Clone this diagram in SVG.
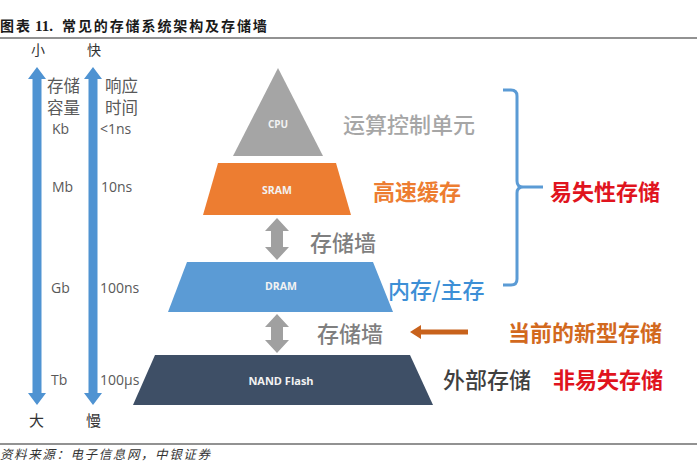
<svg xmlns="http://www.w3.org/2000/svg" width="697" height="464" viewBox="0 0 697 464">
<style>
.cjk{font-family:"Noto Sans CJK SC","Noto Sans",sans-serif}
.big{font-size:22px}
.side{font-size:16.5px;fill:#595959}
.lat{font-family:"Open Sans","Noto Sans",sans-serif;font-size:14px;fill:#595959}
.lbl{font-family:"Open Sans","Noto Sans",sans-serif;font-weight:bold;text-anchor:middle;fill:#f2f2f2}
.rule{stroke:#6e6e6e;stroke-width:1.5}
</style>
<rect width="697" height="464" fill="#ffffff"/>
<g id="title">
<text class="cjk" x="0" y="31" font-size="14" font-weight="bold" fill="#1a1a1a" letter-spacing="2">图表</text>
<text x="35" y="31" font-family="Liberation Serif,serif" font-size="15" font-weight="bold" fill="#1a1a1a">11.</text>
<text class="cjk" x="62" y="31" font-size="14" font-weight="bold" fill="#1a1a1a" letter-spacing="1.9">常见的存储系统架构及存储墙</text>
<line class="rule" x1="0" y1="38" x2="697" y2="38"/>
</g>
<g id="axis-capacity">
<path d="M37,67 L46,79 L41.5,79 L41.5,393 L46,393 L37,405 L28,393 L32.5,393 L32.5,79 L28,79 Z" fill="#4f93d2"/>
<text class="cjk" x="31" y="55" font-size="14" fill="#333">小</text>
<text class="cjk" x="29" y="426" font-size="15" fill="#333">大</text>
<text class="cjk side" x="47" y="92">存储</text>
<text class="cjk side" x="47" y="114">容量</text>
<text class="lat" x="52" y="134">Kb</text>
<text class="lat" x="52" y="192">Mb</text>
<text class="lat" x="51" y="293">Gb</text>
<text class="lat" x="51" y="385">Tb</text>
</g>
<g id="axis-latency">
<path d="M93,67 L102,79 L97.5,79 L97.5,393 L102,393 L93,405 L84,393 L88.5,393 L88.5,79 L84,79 Z" fill="#4f93d2"/>
<text class="cjk" x="87" y="55" font-size="14" fill="#333">快</text>
<text class="cjk" x="86" y="426" font-size="15" fill="#333">慢</text>
<text class="cjk side" x="105" y="92">响应</text>
<text class="cjk side" x="105" y="114">时间</text>
<text class="lat" x="100" y="134">&lt;1ns</text>
<text class="lat" x="101" y="192">10ns</text>
<text class="lat" x="100" y="293">100ns</text>
<text class="lat" x="100" y="385">100μs</text>
</g>
<g id="cpu">
<polygon points="278,68 323,156 233,156" fill="#a5a5a5"/>
<text class="lbl" x="278" y="128" font-size="10">CPU</text>
<text class="cjk big" x="343" y="133" fill="#a6a6a6" font-weight="500">运算控制单元</text>
</g>
<g id="sram">
<polygon points="218,163 336,163 351,215 203,215" fill="#ed7d31"/>
<text class="lbl" x="277" y="194" font-size="10.5">SRAM</text>
<text class="cjk big" x="373" y="200" fill="#ed7d31" font-weight="bold">高速缓存</text>
</g>
<g id="dram">
<polygon points="187,262 373,262 393,312 168,312" fill="#5b9bd5"/>
<text class="lbl" x="281" y="290" font-size="10.5">DRAM</text>
<text class="cjk big" x="388" y="298" fill="#3d8fd6" font-weight="500">内存/主存</text>
</g>
<g id="nand">
<polygon points="155,355 410,355 433,405 133,405" fill="#3e4f66"/>
<text class="lbl" x="281" y="385" font-size="11">NAND Flash</text>
<text class="cjk big" x="443" y="388" fill="#404040" font-weight="500">外部存储</text>
<text class="cjk big" x="553" y="388" fill="#e0141e" font-weight="bold">非易失存储</text>
</g>
<g id="wall1">
<text class="cjk big" x="310" y="251" fill="#7f7f7f" font-weight="500">存储墙</text>
</g>
<g id="wall2">
<text class="cjk big" x="317" y="342" fill="#7f7f7f" font-weight="500">存储墙</text>
</g>
<g id="volatile">
<text class="cjk big" x="550" y="200" fill="#e0141e" font-weight="bold">易失性存储</text>
</g>
<g id="new-storage">
<text class="cjk big" x="508" y="341" fill="#d2691e" font-weight="bold">当前的新型存储</text>
</g>
<g id="connectors">
<path d="M277,218 L289,231 L283,231 L283,247 L289,247 L277,260 L265,247 L271,247 L271,231 L265,231 Z" fill="#a0a0a0"/>
<path d="M277,314 L289,327 L283,327 L283,340 L289,340 L277,353 L265,340 L271,340 L271,327 L265,327 Z" fill="#a0a0a0"/>
<path d="M503,90 L511,90 Q517,90 517,96 L517,181 Q517,187 523,187 L543,187 M523,187 Q517,187 517,193 L517,279 Q517,285 511,285 L503,285" fill="none" stroke="#5b9bd5" stroke-width="3"/>
<path d="M468,329.5 L421,329.5 L421,325 L410,332 L421,339 L421,334.5 L468,334.5 Z" fill="#c8621c"/>
</g>
<g id="footer">
<line class="rule" x1="0" y1="444" x2="697" y2="444"/>
<text class="cjk" x="0" y="459" font-size="12.5" font-style="italic" fill="#333" letter-spacing="1.6">资料来源：电子信息网，中银证券</text>
</g>
</svg>
